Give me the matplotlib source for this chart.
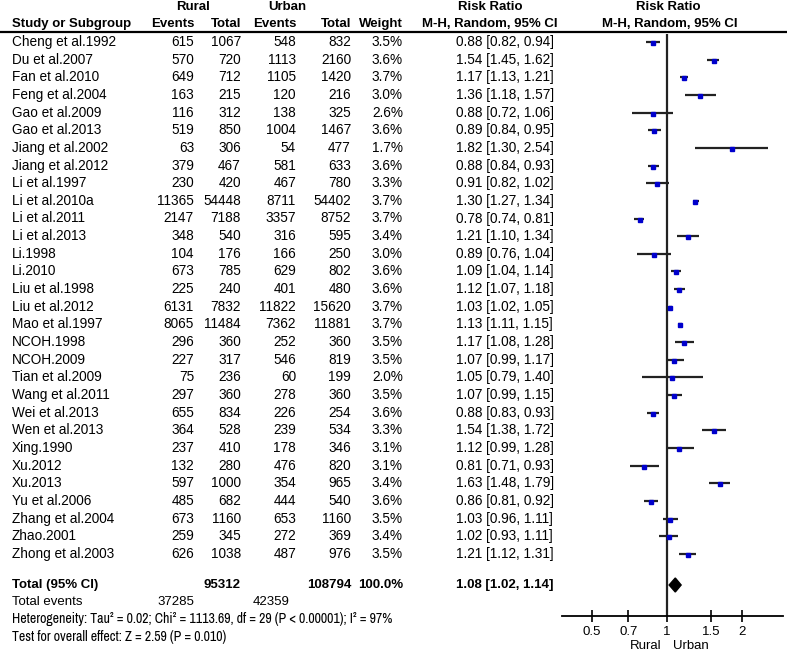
import numpy as np
import matplotlib
matplotlib.use("Agg")
import matplotlib.pyplot as plt
from matplotlib import font_manager

# study rows
studies = ["Cheng et al.1992", "Du et al.2007", "Fan et al.2010", "Feng et al.2004",
           "Gao et al.2009", "Gao et al.2013", "Jiang et al.2002", "Jiang et al.2012",
           "Li et al.1997", "Li et al.2010a", "Li et al.2011", "Li et al.2013", "Li.1998",
           "Li.2010", "Liu et al.1998", "Liu et al.2012", "Mao et al.1997", "NCOH.1998",
           "NCOH.2009", "Tian et al.2009", "Wang et al.2011", "Wei et al.2013",
           "Wen et al.2013", "Xing.1990", "Xu.2012", "Xu.2013", "Yu et al.2006",
           "Zhang et al.2004", "Zhao.2001", "Zhong et al.2003"]
rural_events = [615, 570, 649, 163, 116, 519, 63, 379, 230, 11365, 2147, 348, 104, 673, 225,
                6131, 8065, 296, 227, 75, 297, 655, 364, 237, 132, 597, 485, 673, 259, 626]
rural_total = [1067, 720, 712, 215, 312, 850, 306, 467, 420, 54448, 7188, 540, 176, 785, 240,
               7832, 11484, 360, 317, 236, 360, 834, 528, 410, 280, 1000, 682, 1160, 345, 1038]
urban_events = [548, 1113, 1105, 120, 138, 1004, 54, 581, 467, 8711, 3357, 316, 166, 629, 401,
                11822, 7362, 252, 546, 60, 278, 226, 239, 178, 476, 354, 444, 653, 272, 487]
urban_total = [832, 2160, 1420, 216, 325, 1467, 477, 633, 780, 54402, 8752, 595, 250, 802, 480,
               15620, 11881, 360, 819, 199, 360, 254, 534, 346, 820, 965, 540, 1160, 369, 976]
weight = [3.5, 3.6, 3.7, 3.0, 2.6, 3.6, 1.7, 3.6, 3.3, 3.7, 3.7, 3.4, 3.0, 3.6, 3.6,
          3.7, 3.7, 3.5, 3.5, 2.0, 3.5, 3.6, 3.3, 3.1, 3.1, 3.4, 3.6, 3.5, 3.4, 3.5]
rr = [0.88, 1.54, 1.17, 1.36, 0.88, 0.89, 1.82, 0.88, 0.91, 1.30, 0.78, 1.21, 0.89, 1.09, 1.12,
      1.03, 1.13, 1.17, 1.07, 1.05, 1.07, 0.88, 1.54, 1.12, 0.81, 1.63, 0.86, 1.03, 1.02, 1.21]
lo = [0.82, 1.45, 1.13, 1.18, 0.72, 0.84, 1.30, 0.84, 0.82, 1.27, 0.74, 1.10, 0.76, 1.04, 1.07,
      1.02, 1.11, 1.08, 0.99, 0.79, 0.99, 0.83, 1.38, 0.99, 0.71, 1.48, 0.81, 0.96, 0.93, 1.12]
hi = [0.94, 1.62, 1.21, 1.57, 1.06, 0.95, 2.54, 0.93, 1.02, 1.34, 0.81, 1.34, 1.04, 1.14, 1.18,
      1.05, 1.15, 1.28, 1.17, 1.40, 1.15, 0.93, 1.72, 1.28, 0.93, 1.79, 0.92, 1.11, 1.11, 1.31]

# pooled result
tot_rural, tot_urban = 95312, 108794
ev_rural, ev_urban = 37285, 42359
pooled = (1.08, 1.02, 1.14)
hetero = "Heterogeneity: Tau\u00b2 = 0.02; Chi\u00b2 = 1113.69, df = 29 (P < 0.00001); I\u00b2 = 97%"
overall = "Test for overall effect: Z = 2.59 (P = 0.010)"
ticks = [0.5, 0.7, 1, 1.5, 2]

W, H = 787, 652
font = ["Liberation Sans", "DejaVu Sans"]
fs = 9.5

# condensed face for the footer lines, if one is installed
names = sorted({f.name for f in font_manager.fontManager.ttflist})
cond = [n for n in names if "Narrow" in n] + [n for n in names if "Condensed" in n]
if cond:
    narrow, nfs = [cond[0], "DejaVu Sans"], 10
else:
    narrow, nfs = font, 8.4

fig = plt.figure(figsize=(W / 100, H / 100), dpi=100)
ax = fig.add_axes([0, 0, 1, 1])
ax.set_xlim(0, W)
ax.set_ylim(H, 0)
ax.axis("off")

y0, dy = 42, 17.65
rows_y = [y0 + i * dy for i in range(len(studies))]
y_tot = 585

# column positions (right aligned numbers)
c_name, c_re, c_rt, c_ue, c_ut, c_w, c_rr = 12, 194, 241, 296, 351, 403, 456

def txt(x, y, s, ha="left", bold=False, fam=font, size=fs):
    ax.text(x, y, s, ha=ha, va="center", fontsize=size,
            fontweight="bold" if bold else "normal", family=fam)

# header
txt(193, 7, "Rural", "center", True)
txt(287, 7, "Urban", "center", True)
txt(490, 7, "Risk Ratio", "center", True)
txt(668, 7, "Risk Ratio", "center", True)
txt(c_name, 24, "Study or Subgroup", bold=True)
txt(c_re, 24, "Events", "right", True)
txt(c_rt, 24, "Total", "right", True)
txt(c_ue, 24, "Events", "right", True)
txt(c_ut, 24, "Total", "right", True)
txt(c_w, 24, "Weight", "right", True)
txt(490, 24, "M-H, Random, 95% CI", "center", True)
txt(670, 24, "M-H, Random, 95% CI", "center", True)
ax.plot([0, W], [32, 32], color="black", lw=1.6)

for i, y in enumerate(rows_y):
    txt(c_name, y, studies[i], size=9.8)
    txt(c_re, y, str(rural_events[i]), "right", size=9.8)
    txt(c_rt, y, str(rural_total[i]), "right", size=9.8)
    txt(c_ue, y, str(urban_events[i]), "right", size=9.8)
    txt(c_ut, y, str(urban_total[i]), "right", size=9.8)
    txt(c_w, y, "%.1f%%" % weight[i], "right", size=9.8)
    txt(c_rr, y, "%.2f [%.2f, %.2f]" % (rr[i], lo[i], hi[i]), size=9.8)

# totals and footer
txt(c_name, y_tot, "Total (95% CI)", bold=True)
txt(c_rt, y_tot, str(tot_rural), "right", True)
txt(c_ut, y_tot, str(tot_urban), "right", True)
txt(c_w, y_tot, "100.0%", "right", True)
txt(c_rr, y_tot, "%.2f [%.2f, %.2f]" % pooled, bold=True)
txt(c_name, 602, "Total events")
txt(c_re, 602, str(ev_rural), "right")
txt(290, 602, str(ev_urban), "right")
txt(c_name, 619, hetero, fam=narrow, size=nfs)
txt(c_name, 637, overall, fam=narrow, size=nfs)

# forest panel
fx0, fx1, fy0, fy1 = 562, 783, 34, 616
fa = fig.add_axes([fx0 / W, 1 - fy1 / H, (fx1 - fx0) / W, (fy1 - fy0) / H])
fa.set_xscale("log")
fa.set_xlim(0.378, 2.93)
fa.set_ylim(fy1, fy0)
fa.patch.set_alpha(0)
for s in ["top", "left", "right"]:
    fa.spines[s].set_visible(False)
fa.spines["bottom"].set_linewidth(1.3)
fa.axvline(1, color="#222222", lw=1.6)
fa.hlines(rows_y, lo, hi, color="#222222", lw=1.6)
fa.plot(rr, [y + 1 for y in rows_y], "s", color="#0000cc", ms=3.2, mec="#0000cc")
m, l, h = pooled
fa.fill([l, m, h, m], [y_tot, y_tot - 7, y_tot, y_tot + 7], color="black")
fa.set_yticks([])
fa.set_xticks(ticks)
fa.set_xticklabels([str(t) for t in ticks], family=font, fontsize=fs)
fa.xaxis.set_minor_locator(matplotlib.ticker.NullLocator())
fa.tick_params(axis="x", direction="inout", length=9, width=1.2, pad=3)

txt(646, 646, "Rural", "center")
txt(691, 646, "Urban", "center")

fig.savefig("out.png", dpi=100)
